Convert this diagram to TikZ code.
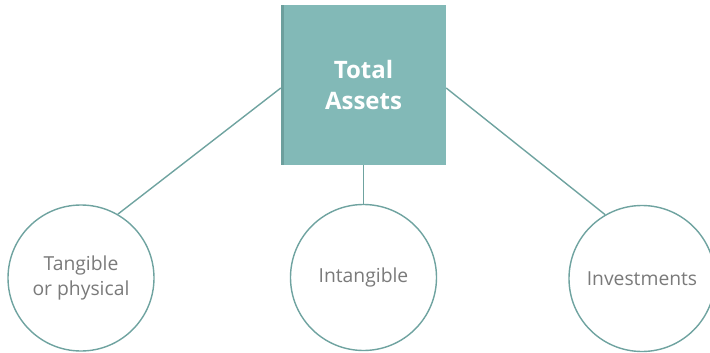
\documentclass[tikz,border=0pt]{standalone}
\usepackage{fontspec}
\setmainfont{Open Sans}
\definecolor{tealfill}{HTML}{82B9B7}
\definecolor{tealedge}{HTML}{6C9F9D}
\definecolor{tealline}{HTML}{6FA3A0}
\definecolor{labelgray}{HTML}{7A7A7A}
\begin{document}
\begin{tikzpicture}[x=1pt,y=-1pt,
  rootbox/.style={fill=tealfill, draw=none, minimum width=165pt, minimum height=160pt,
    inner sep=0pt, text=white, align=center,
    font=\fontsize{24}{31}\selectfont\bfseries},
  leaf/.style={circle, draw=tealline, line width=1.4pt, fill=white, minimum size=146pt,
    inner sep=0pt, text=labelgray, align=center,
    font=\fontsize{19.3}{25}\selectfont},
  link/.style={draw=tealline, line width=1.4pt}]
  \useasboundingbox (0,0) rectangle (710,353);
  % central box with a darker strip on its left side
  \node[rootbox] (root) at (363.5,85) {Total\\Assets};
  \fill[tealedge] (root.north west) rectangle ([xshift=3pt]root.south west);
  % the three categories
  \node[leaf] (tang) at (81,278) {Tangible\\or physical};
  \node[leaf] (intang) at (363.5,277.5) {Intangible};
  \node[leaf] (inv) at (642,278.5) {Investments};
  % connectors
  \coordinate (rw) at ([yshift=-3pt]root.west);
  \coordinate (re) at ([yshift=-3pt]root.east);
  \draw[link] (rw) -- (tang.60);
  \draw[link] (root.south) -- (intang.north);
  \draw[link] (re) -- (inv.120);
\end{tikzpicture}
\end{document}
